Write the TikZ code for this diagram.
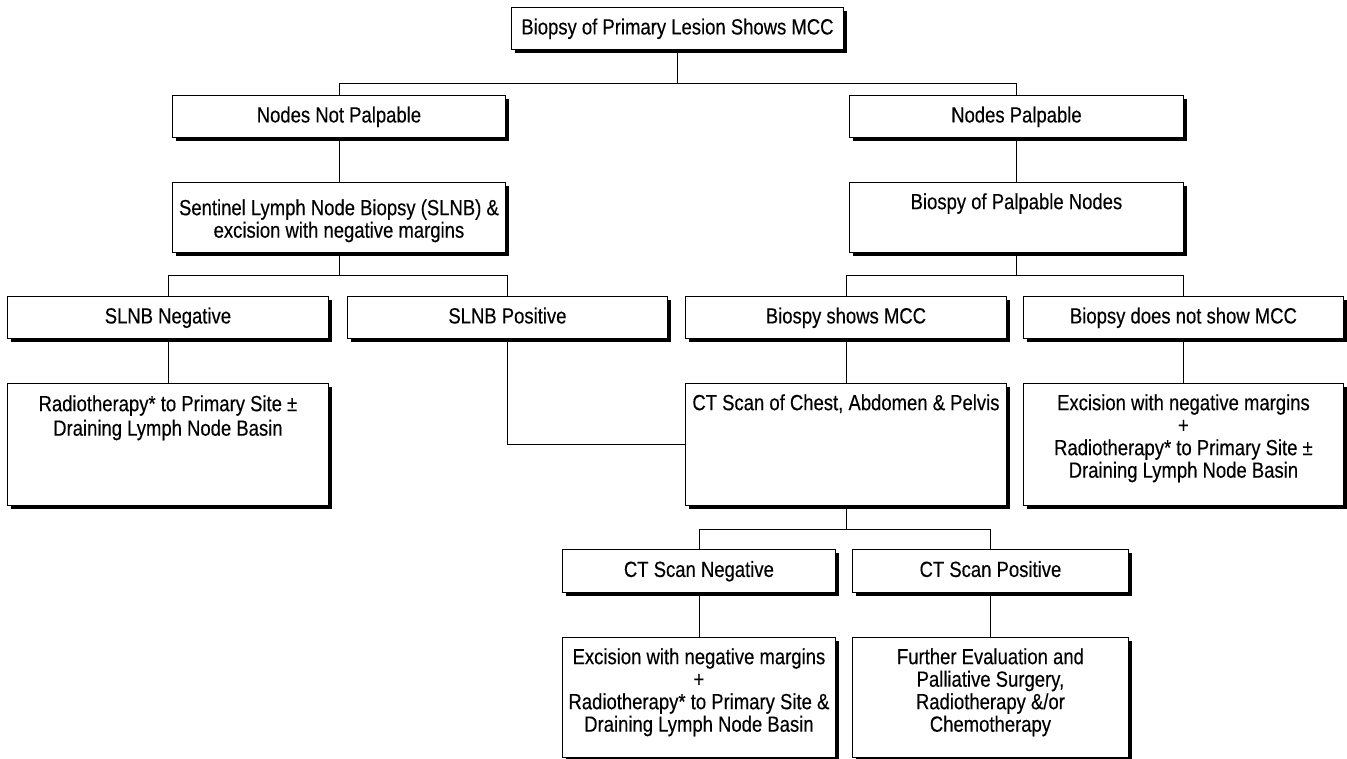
\documentclass[tikz,border=0pt]{standalone}
\usepackage{fontspec}
\setmainfont[FakeStretch=0.84,FakeBold=0.3]{Liberation Sans}
\usetikzlibrary{shadows}
\newcommand\boxfont{\fontsize{22}{22.5}\selectfont}
\newcommand\fl{\rule{0pt}{18pt}}
\newcommand\sr{\rule[-6pt]{0pt}{24pt}}
\begin{document}
\begin{tikzpicture}[x=1pt,y=-1pt,
  box/.style={draw=black, fill=white, line width=0.9pt, inner sep=0pt, anchor=north west,
    align=center, font=\boxfont,
    drop shadow={shadow xshift=4pt, shadow yshift=-4pt, fill=black, opacity=1}},
  txt/.style={inner sep=0pt, align=center, anchor=north, font=\boxfont},
  conn/.style={line width=0.9pt, draw=black}]
\useasboundingbox (0,0) rectangle (1347,759);
\fill[white] (0,0) rectangle (1347,759);

% boxes
\node[box, minimum width=332pt, minimum height=42pt] (top) at (511,7) {\sr Biopsy of Primary Lesion Shows MCC};
\node[box, minimum width=333pt, minimum height=42pt] (nnp) at (172,95) {\sr Nodes Not Palpable};
\node[box, minimum width=334pt, minimum height=42pt] (np) at (849,95) {\sr Nodes Palpable};
\node[box, minimum width=333pt, minimum height=70pt] (sent) at (172,182) {};
\node[txt] (sentT) at ([yshift=-15pt]sent.north) {\fl Sentinel Lymph Node Biopsy (SLNB) \&\\excision with negative margins};
\node[box, minimum width=334pt, minimum height=70pt] (bpn) at (849,182) {};
\node[txt] (bpnT) at ([yshift=-9pt]bpn.north) {\fl Biospy of Palpable Nodes};

\node[box, minimum width=321pt, minimum height=42pt] (sneg) at (7,296) {\sr SLNB Negative};
\node[box, minimum width=320pt, minimum height=42pt] (spos) at (347,296) {\sr SLNB Positive};
\node[box, minimum width=321pt, minimum height=42pt] (bsm) at (685,296) {\sr Biospy shows MCC};
\node[box, minimum width=320pt, minimum height=42pt] (bdn) at (1023,296) {\sr Biopsy does not show MCC};

\node[box, minimum width=321pt, minimum height=122pt] (radl) at (7,383) {};
\node[txt] (radlT) at ([yshift=-10pt]radl.north) {\fl Radiotherapy* to Primary Site ±\\[2pt]Draining Lymph Node Basin};
\node[box, minimum width=321pt, minimum height=122pt] (ct) at (685,383) {};
\node[txt] (ctT) at ([yshift=-9pt]ct.north) {\fl CT Scan of Chest, Abdomen \& Pelvis};
\node[box, minimum width=320pt, minimum height=122pt] (exr) at (1023,383) {};
\node[txt] (exrT) at ([yshift=-9pt]exr.north) {\fl Excision with negative margins\\+\\Radiotherapy* to Primary Site ±\\Draining Lymph Node Basin};

\node[box, minimum width=273pt, minimum height=43pt] (ctn) at (562,549) {\sr CT Scan Negative};
\node[box, minimum width=276pt, minimum height=43pt] (ctp) at (852,549) {\sr CT Scan Positive};

\node[box, minimum width=273pt, minimum height=120pt] (exb) at (562,637) {};
\node[txt] (exbT) at ([yshift=-9pt]exb.north) {\fl Excision with negative margins\\+\\Radiotherapy* to Primary Site \&\\Draining Lymph Node Basin};
\node[box, minimum width=276pt, minimum height=120pt] (fur) at (852,637) {};
\node[txt] (furT) at ([yshift=-9pt]fur.north) {\fl Further Evaluation and\\Palliative Surgery,\\Radiotherapy \&/or\\Chemotherapy};

% connectors
\path (top.south) ++(0,34) coordinate (j1);
\draw[conn] (top.south) -- (j1);
\draw[conn] (nnp.north) |- (j1) -| (np.north);
\draw[conn] (nnp.south) -- (sent.north);
\draw[conn] (np.south) -- (bpn.north);

\path (sent.south) ++(0,23) coordinate (j2);
\draw[conn] (sent.south) -- (j2);
\draw[conn] (sneg.north) |- (j2) -| (spos.north);
\path (bpn.south) ++(0,23) coordinate (j3);
\draw[conn] (bpn.south) -- (j3);
\draw[conn] (bsm.north) |- (j3) -| (bdn.north);

\draw[conn] (sneg.south) -- (radl.north);
\draw[conn] (bsm.south) -- (ct.north);
\draw[conn] (bdn.south) -- (exr.north);
\draw[conn] (spos.south) |- (ct.west);

\path (ct.south) ++(0,24) coordinate (j4);
\draw[conn] (ct.south) -- (j4);
\draw[conn] (ctn.north) |- (j4) -| (ctp.north);
\draw[conn] (ctn.south) -- (exb.north);
\draw[conn] (ctp.south) -- (fur.north);
\end{tikzpicture}
\end{document}
